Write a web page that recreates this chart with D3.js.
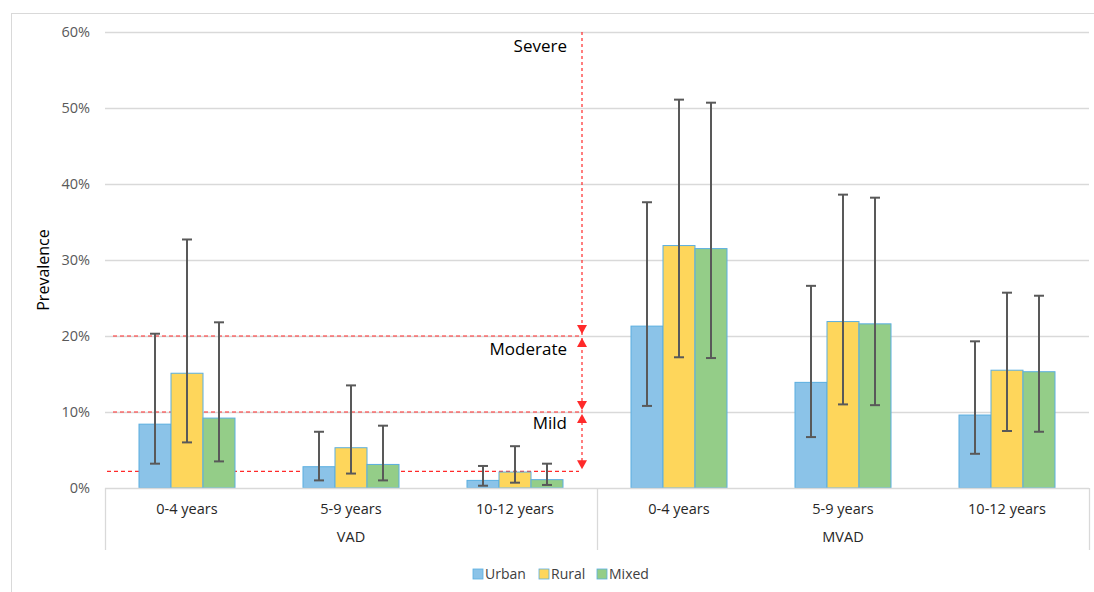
<!DOCTYPE html>
<html>
<head>
<meta charset="utf-8">
<script src="https://cdn.jsdelivr.net/npm/d3@7"></script>
<style>
  body { margin: 0; background: #fff; }
  svg { display: block; font-family: "Open Sans", "Noto Sans", sans-serif; }
</style>
</head>
<body>
<div id="chart"></div>
<script>
(function() {
'use strict';

// data
const groups = ['VAD', 'MVAD'];
const ages = ['0-4 years', '5-9 years', '10-12 years'];
const series = ['Urban', 'Rural', 'Mixed'];
const colors = ['#8bc3e8', '#fed65b', '#94cd88'];

// prevalence (%) per group x age, in series order
const urban = [8.4, 2.8, 1.0, 21.3, 13.9, 9.6];
const rural = [15.1, 5.3, 2.1, 31.9, 21.9, 15.5];
const mixed = [9.2, 3.1, 1.1, 31.5, 21.6, 15.3];

const urbanLow = [3.2, 1.0, 0.3, 10.8, 6.7, 4.5];
const urbanHigh = [20.3, 7.4, 2.9, 37.6, 26.6, 19.3];
const ruralLow = [6.0, 1.9, 0.7, 17.2, 11.0, 7.5];
const ruralHigh = [32.7, 13.5, 5.5, 51.1, 38.6, 25.7];
const mixedLow = [3.5, 1.0, 0.4, 17.1, 10.9, 7.4];
const mixedHigh = [21.8, 8.2, 3.2, 50.7, 38.2, 25.3];

const yTicks = [0, 10, 20, 30, 40, 50, 60];

// severity cut-offs (%) and their labels
const cutoffs = [2.2, 10, 20];
const severity = ['Mild', 'Moderate', 'Severe'];

const width = 1094;
const height = 592;
const left = 105, right = 1089, top = 32, bottom = 488;

const svg = d3.select('#chart').append('svg')
  .attr('width', width)
  .attr('height', height);

// outer frame
svg.append('rect')
  .attr('x', 11.5).attr('y', 13.5)
  .attr('width', 1100).attr('height', 600)
  .attr('fill', 'none')
  .attr('stroke', '#d9d9d9');

const keys = [];
groups.forEach(g => ages.forEach(a => keys.push(g + '|' + a)));

const rows = keys.map((k, i) => ({
  key: k,
  values: [
    {s: series[0], v: urban[i], lo: urbanLow[i], hi: urbanHigh[i]},
    {s: series[1], v: rural[i], lo: ruralLow[i], hi: ruralHigh[i]},
    {s: series[2], v: mixed[i], lo: mixedLow[i], hi: mixedHigh[i]}
  ]
}));

const x0 = d3.scaleBand().domain(keys).range([left, right]).padding(0);
const x1 = d3.scaleBand().domain(series).range([0, x0.bandwidth()])
  .paddingInner(0).paddingOuter(1.0625);
const y = d3.scaleLinear().domain([0, 60]).range([bottom, top]);
const color = d3.scaleOrdinal().domain(series).range(colors);

// gridlines
svg.append('g')
  .selectAll('line')
  .data(yTicks.filter(t => t > 0))
  .enter().append('line')
  .attr('x1', left).attr('x2', right)
  .attr('y1', d => Math.round(y(d)) + 0.5)
  .attr('y2', d => Math.round(y(d)) + 0.5)
  .attr('stroke', '#d9d9d9')
  .attr('stroke-width', 1.3);

// y tick labels
svg.append('g')
  .selectAll('text')
  .data(yTicks)
  .enter().append('text')
  .attr('x', 90)
  .attr('y', d => y(d))
  .attr('dy', '0.35em')
  .attr('text-anchor', 'end')
  .attr('fill', '#595959')
  .style('font-size', '14.5px')
  .text(d => d + '%');

svg.append('text')
  .attr('transform', 'translate(49,' + ((top + bottom) / 2 + 10) + ') rotate(-90)')
  .attr('text-anchor', 'middle')
  .attr('fill', '#000')
  .style('font-size', '16px')
  .text('Prevalence');

// severity guides
const lastVad = x0(keys[ages.length - 1]) + x0.bandwidth();
const guideX = lastVad - 15;
const red = '#ff2a2a';
const guides = svg.append('g');

guides.selectAll('line.h')
  .data(cutoffs)
  .enter().append('line')
  .attr('class', 'h')
  .attr('x1', (d, i) => i === 0 ? 107 : 113)
  .attr('x2', guideX - 3)
  .attr('y1', d => y(d))
  .attr('y2', d => y(d))
  .attr('stroke', red)
  .attr('stroke-width', 1.2)
  .attr('stroke-dasharray', '4,3');

guides.append('line')
  .attr('x1', guideX).attr('x2', guideX)
  .attr('y1', y(60)).attr('y2', y(cutoffs[0]) - 4)
  .attr('stroke', red)
  .attr('stroke-width', 1.2)
  .attr('stroke-dasharray', '3,3');

// arrows: down onto each cut-off, up from the mild/moderate boundaries
const tri = 5, triH = 9;
const arrows = [];
cutoffs.forEach((c, i) => {
  arrows.push({v: c, dir: 'down'});
  if (i > 0) arrows.push({v: c, dir: 'up'});
});
guides.selectAll('path.arrow')
  .data(arrows)
  .enter().append('path')
  .attr('class', 'arrow')
  .attr('fill', red)
  .attr('d', d => {
    const yy = y(d.v);
    if (d.dir === 'down') {
      const tip = yy - 2;
      return 'M' + (guideX - tri) + ',' + (tip - triH) + 'L' + (guideX + tri) + ',' + (tip - triH) + 'L' + guideX + ',' + tip + 'Z';
    }
    const tip = yy + 2;
    return 'M' + (guideX - tri) + ',' + (tip + triH) + 'L' + (guideX + tri) + ',' + (tip + triH) + 'L' + guideX + ',' + tip + 'Z';
  });

const labelPos = [
  {t: severity[0], v: (cutoffs[1]) - 1.5},
  {t: severity[1], v: (cutoffs[2]) - 1.7},
  {t: severity[2], v: 58.2}
];
guides.selectAll('text')
  .data(labelPos)
  .enter().append('text')
  .attr('x', guideX - 15)
  .attr('y', d => y(d.v))
  .attr('dy', '0.35em')
  .attr('text-anchor', 'end')
  .attr('fill', '#000')
  .style('font-size', '17px')
  .text(d => d.t);

// bars
const cat = svg.append('g')
  .selectAll('g')
  .data(rows)
  .enter().append('g')
  .attr('transform', d => 'translate(' + x0(d.key) + ',0)');

cat.selectAll('rect')
  .data(d => d.values)
  .enter().append('rect')
  .attr('x', d => x1(d.s))
  .attr('y', d => y(d.v))
  .attr('width', x1.bandwidth())
  .attr('height', d => y(0) - y(d.v))
  .attr('fill', d => color(d.s))
  .attr('stroke', '#5aaee0')
  .attr('stroke-width', 1);

// error bars
const err = cat.selectAll('g.err')
  .data(d => d.values)
  .enter().append('g')
  .attr('class', 'err')
  .attr('stroke', '#595959')
  .attr('stroke-width', 2);

err.append('line')
  .attr('x1', d => x1(d.s) + x1.bandwidth() / 2)
  .attr('x2', d => x1(d.s) + x1.bandwidth() / 2)
  .attr('y1', d => y(d.hi))
  .attr('y2', d => y(d.lo));
err.append('line')
  .attr('x1', d => x1(d.s) + x1.bandwidth() / 2 - 5)
  .attr('x2', d => x1(d.s) + x1.bandwidth() / 2 + 5)
  .attr('y1', d => y(d.hi))
  .attr('y2', d => y(d.hi));
err.append('line')
  .attr('x1', d => x1(d.s) + x1.bandwidth() / 2 - 5)
  .attr('x2', d => x1(d.s) + x1.bandwidth() / 2 + 5)
  .attr('y1', d => y(d.lo))
  .attr('y2', d => y(d.lo));

// category axis
const axis = svg.append('g');
axis.append('line')
  .attr('x1', left).attr('x2', right)
  .attr('y1', bottom + 0.5).attr('y2', bottom + 0.5)
  .attr('stroke', '#d9d9d9')
  .attr('stroke-width', 1.3);

const groupEdges = [left].concat(groups.map((g, i) => x0(keys[(i + 1) * ages.length - 1]) + x0.bandwidth()));
axis.selectAll('line.sep')
  .data(groupEdges)
  .enter().append('line')
  .attr('class', 'sep')
  .attr('x1', d => Math.round(d) + 0.5).attr('x2', d => Math.round(d) + 0.5)
  .attr('y1', bottom).attr('y2', 550)
  .attr('stroke', '#d9d9d9')
  .attr('stroke-width', 1.3);

axis.selectAll('text.age')
  .data(keys)
  .enter().append('text')
  .attr('class', 'age')
  .attr('x', d => x0(d) + x0.bandwidth() / 2)
  .attr('y', 509)
  .attr('dy', '0.35em')
  .attr('text-anchor', 'middle')
  .attr('fill', '#262626')
  .style('font-size', '14.5px')
  .text(d => d.split('|')[1]);

axis.selectAll('text.grp')
  .data(groups)
  .enter().append('text')
  .attr('class', 'grp')
  .attr('x', (d, i) => (groupEdges[i] + groupEdges[i + 1]) / 2)
  .attr('y', 537)
  .attr('dy', '0.35em')
  .attr('text-anchor', 'middle')
  .attr('fill', '#262626')
  .style('font-size', '14.5px')
  .text(d => d);

// legend
const legendX = [473, 539, 597];
const legend = svg.append('g')
  .selectAll('g')
  .data(series)
  .enter().append('g')
  .attr('transform', (d, i) => 'translate(' + legendX[i] + ',569)');

legend.append('rect')
  .attr('width', 10).attr('height', 10)
  .attr('fill', d => color(d))
  .attr('stroke', '#5aaee0')
  .attr('stroke-width', 0.8);

legend.append('text')
  .attr('x', 12)
  .attr('y', 5)
  .attr('dy', '0.35em')
  .attr('fill', '#404040')
  .style('font-size', '14px')
  .text(d => d);

})();
</script>
</body>
</html>
